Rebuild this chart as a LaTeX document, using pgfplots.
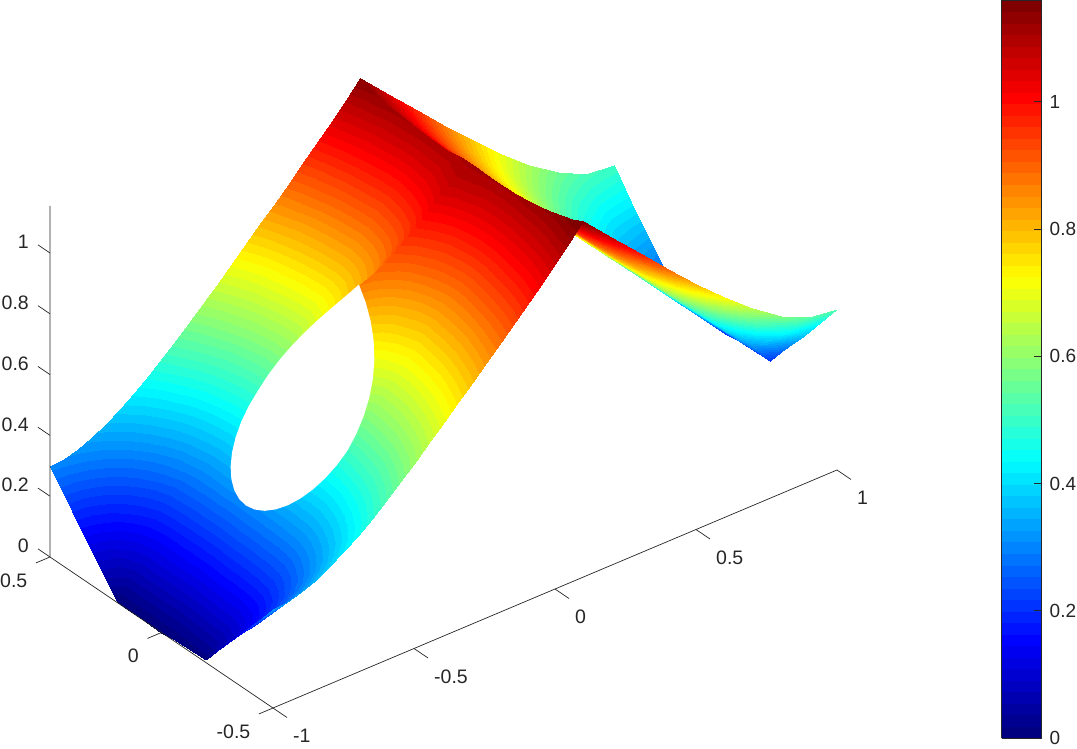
\documentclass[border=0pt]{standalone}
\usepackage{fontspec}
\setmainfont{Liberation Sans}
\usepackage{pgfplots}
\usepackage{pgfplotstable}
\pgfplotsset{compat=1.18}
\definecolor{axisgray}{rgb}{0.15,0.15,0.15}
\pgfplotsset{colormap/jet, colormap={jet64}{samples of colormap=(64 of jet)}}

% half of the surface, y>=0 (it is mirrored in y below)
\pgfplotstableread{
x y z
-1 0 0
-0.95 0 0.05
-0.9 0 0.1
-0.85 0 0.15
-0.8 0 0.2
-0.75 0 0.25
-0.7 0 0.3
-0.65 0 0.371
-0.6 0 0.443
-0.55 0 0.514
-0.5 0 0.586
-0.45 0 0.656
-0.4 0 0.729
-0.35 0 0.8
-0.3 0 0.87
-0.25 0 0.885
-0.2 0 0.912
-0.15 0 0.945
-0.1 0 0.98
-0.05 0 1.02
0 0 1.06
0.05 0 1.09
0.1 0 1.112
0.2 0 1
0.3 0 0.9
0.4 0 0.8
0.5 0 0.7
0.6 0 0.6
0.7 0 0.5
0.8 0 0.4
0.9 0 0.3
1 0 0.2
-1 0.05 0
-0.95 0.05 0.05
-0.9 0.05 0.1
-0.85 0.05 0.15
-0.8 0.05 0.2
-0.75 0.05 0.25
-0.7 0.05 0.3
-0.65 0.05 0.363
-0.6 0.05 0.428
-0.55 0.05 0.493
-0.5 0.05 0.558
-0.45 0.05 0.623
-0.4 0.05 0.688
-0.35 0.05 0.754
-0.3 0.05 0.805
-0.25 0.05 0.824
-0.2 0.05 0.86
-0.15 0.05 0.9
-0.1 0.05 0.943
-0.05 0.05 0.988
0 0.05 1.034
0.05 0.05 1.078
0.1 0.05 1.108
0.2 0.05 1
0.3 0.05 0.9
0.4 0.05 0.8
0.5 0.05 0.7
0.6 0.05 0.6
0.7 0.05 0.5
0.8 0.05 0.4
0.9 0.05 0.3
1 0.05 0.2
-1 0.1 0
-0.95 0.1 0.05
-0.9 0.1 0.1
-0.85 0.1 0.15
-0.8 0.1 0.2
-0.75 0.1 0.25
-0.7 0.1 0.3
-0.65 0.1 0.355
-0.6 0.1 0.416
-0.55 0.1 0.476
-0.5 0.1 0.537
-0.45 0.1 0.598
-0.4 0.1 0.658
-0.35 0.1 0.719
-0.3 0.1 0.752
-0.25 0.1 0.788
-0.2 0.1 0.831
-0.15 0.1 0.876
-0.1 0.1 0.922
-0.05 0.1 0.969
0 0.1 1.017
0.05 0.1 1.06
0.1 0.1 1.104
0.2 0.1 1
0.3 0.1 0.9
0.4 0.1 0.8
0.5 0.1 0.7
0.6 0.1 0.6
0.7 0.1 0.5
0.8 0.1 0.4
0.9 0.1 0.3
1 0.1 0.2
-1 0.15 0
-0.95 0.15 0.05
-0.9 0.15 0.1
-0.85 0.15 0.15
-0.8 0.15 0.2
-0.75 0.15 0.25
-0.7 0.15 0.3
-0.65 0.15 0.35
-0.6 0.15 0.405
-0.55 0.15 0.462
-0.5 0.15 0.52
-0.45 0.15 0.577
-0.4 0.15 0.634
-0.35 0.15 0.676
-0.3 0.15 0.717
-0.25 0.15 0.763
-0.2 0.15 0.81
-0.15 0.15 0.859
-0.1 0.15 0.908
-0.05 0.15 0.957
0 0.15 1.0065
0.05 0.15 1.055
0.1 0.15 1.102
0.2 0.15 1
0.3 0.15 0.9
0.4 0.15 0.8
0.5 0.15 0.7
0.6 0.15 0.6
0.7 0.15 0.5
0.8 0.15 0.4
0.9 0.15 0.3
1 0.15 0.2
-1 0.2 0
-0.95 0.2 0.05
-0.9 0.2 0.1
-0.85 0.2 0.15
-0.8 0.2 0.2
-0.75 0.2 0.25
-0.7 0.2 0.3
-0.65 0.2 0.35
-0.6 0.2 0.4
-0.55 0.2 0.45
-0.5 0.2 0.5
-0.45 0.2 0.55
-0.4 0.2 0.6
-0.35 0.2 0.65
-0.3 0.2 0.7
-0.25 0.2 0.75
-0.2 0.2 0.8
-0.15 0.2 0.85
-0.1 0.2 0.9
-0.05 0.2 0.95
0 0.2 1
0.05 0.2 1.05
0.1 0.2 1.102
0.2 0.2 1
0.3 0.2 0.9
0.4 0.2 0.8
0.5 0.2 0.7
0.6 0.2 0.6
0.7 0.2 0.5
0.8 0.2 0.4
0.9 0.2 0.3
1 0.2 0.2
-1 0.25 0.05
-0.95 0.25 0.0707
-0.9 0.25 0.1118
-0.85 0.25 0.1581
-0.8 0.25 0.2062
-0.75 0.25 0.255
-0.7 0.25 0.3041
-0.65 0.25 0.3536
-0.6 0.25 0.4031
-0.55 0.25 0.4528
-0.5 0.25 0.5025
-0.45 0.25 0.5523
-0.4 0.25 0.6021
-0.35 0.25 0.6519
-0.3 0.25 0.7018
-0.25 0.25 0.7517
-0.2 0.25 0.8016
-0.15 0.25 0.8515
-0.1 0.25 0.9014
-0.05 0.25 0.9513
0 0.25 1.0012
0.05 0.25 1.0512
0.1 0.25 1.104
0.2 0.25 1.0016
0.3 0.25 0.9018
0.4 0.25 0.8021
0.5 0.25 0.7025
0.6 0.25 0.6031
0.7 0.25 0.5041
0.8 0.25 0.4062
0.9 0.25 0.3118
1 0.25 0.25
-1 0.3 0.1
-0.95 0.3 0.1118
-0.9 0.3 0.1414
-0.85 0.3 0.1803
-0.8 0.3 0.2236
-0.75 0.3 0.2693
-0.7 0.3 0.3162
-0.65 0.3 0.364
-0.6 0.3 0.4123
-0.55 0.3 0.461
-0.5 0.3 0.5099
-0.45 0.3 0.559
-0.4 0.3 0.6083
-0.35 0.3 0.6576
-0.3 0.3 0.7071
-0.25 0.3 0.7566
-0.2 0.3 0.8062
-0.15 0.3 0.8559
-0.1 0.3 0.9055
-0.05 0.3 0.9552
0 0.3 1.005
0.05 0.3 1.0548
0.1 0.3 1.108
0.2 0.3 1.0062
0.3 0.3 0.9071
0.4 0.3 0.8083
0.5 0.3 0.7099
0.6 0.3 0.6123
0.7 0.3 0.5162
0.8 0.3 0.4236
0.9 0.3 0.3414
1 0.3 0.3
-1 0.35 0.15
-0.95 0.35 0.1581
-0.9 0.35 0.1803
-0.85 0.35 0.2121
-0.8 0.35 0.25
-0.75 0.35 0.2915
-0.7 0.35 0.3354
-0.65 0.35 0.3808
-0.6 0.35 0.4272
-0.55 0.35 0.4743
-0.5 0.35 0.522
-0.45 0.35 0.5701
-0.4 0.35 0.6185
-0.35 0.35 0.6671
-0.3 0.35 0.7159
-0.25 0.35 0.7649
-0.2 0.35 0.8139
-0.15 0.35 0.8631
-0.1 0.35 0.9124
-0.05 0.35 0.9618
0 0.35 1.0112
0.05 0.35 1.0607
0.1 0.35 1.113
0.2 0.35 1.0139
0.3 0.35 0.9159
0.4 0.35 0.8185
0.5 0.35 0.722
0.6 0.35 0.6272
0.7 0.35 0.5354
0.8 0.35 0.45
0.9 0.35 0.3803
1 0.35 0.35
-1 0.4 0.2
-0.95 0.4 0.2062
-0.9 0.4 0.2236
-0.85 0.4 0.25
-0.8 0.4 0.2828
-0.75 0.4 0.3202
-0.7 0.4 0.3606
-0.65 0.4 0.4031
-0.6 0.4 0.4472
-0.55 0.4 0.4924
-0.5 0.4 0.5385
-0.45 0.4 0.5852
-0.4 0.4 0.6325
-0.35 0.4 0.6801
-0.3 0.4 0.728
-0.25 0.4 0.7762
-0.2 0.4 0.8246
-0.15 0.4 0.8732
-0.1 0.4 0.922
-0.05 0.4 0.9708
0 0.4 1.0198
0.05 0.4 1.0689
0.1 0.4 1.12
0.2 0.4 1.0246
0.3 0.4 0.928
0.4 0.4 0.8325
0.5 0.4 0.7385
0.6 0.4 0.6472
0.7 0.4 0.5606
0.8 0.4 0.4828
0.9 0.4 0.4236
1 0.4 0.4
-1 0.45 0.25
-0.95 0.45 0.255
-0.9 0.45 0.2693
-0.85 0.45 0.2915
-0.8 0.45 0.3202
-0.75 0.45 0.3536
-0.7 0.45 0.3905
-0.65 0.45 0.4301
-0.6 0.45 0.4717
-0.55 0.45 0.5148
-0.5 0.45 0.559
-0.45 0.45 0.6042
-0.4 0.45 0.65
-0.35 0.45 0.6964
-0.3 0.45 0.7433
-0.25 0.45 0.7906
-0.2 0.45 0.8382
-0.15 0.45 0.886
-0.1 0.45 0.9341
-0.05 0.45 0.9823
0 0.45 1.0308
0.05 0.45 1.0794
0.1 0.45 1.13
0.2 0.45 1.0382
0.3 0.45 0.9433
0.4 0.45 0.85
0.5 0.45 0.759
0.6 0.45 0.6717
0.7 0.45 0.5905
0.8 0.45 0.5202
0.9 0.45 0.4693
1 0.45 0.452
-1 0.5 0.3
-0.95 0.5 0.3041
-0.9 0.5 0.3162
-0.85 0.5 0.3354
-0.8 0.5 0.3606
-0.75 0.5 0.3905
-0.7 0.5 0.4243
-0.65 0.5 0.461
-0.6 0.5 0.5
-0.55 0.5 0.5408
-0.5 0.5 0.5831
-0.45 0.5 0.6265
-0.4 0.5 0.6708
-0.35 0.5 0.7159
-0.3 0.5 0.7616
-0.25 0.5 0.8078
-0.2 0.5 0.8544
-0.15 0.5 0.9014
-0.1 0.5 0.9487
-0.05 0.5 0.9962
0 0.5 1.044
0.05 0.5 1.092
0.1 0.5 1.145
0.2 0.5 1.0544
0.3 0.5 0.9616
0.4 0.5 0.8708
0.5 0.5 0.7831
0.6 0.5 0.7
0.7 0.5 0.6243
0.8 0.5 0.5606
0.9 0.5 0.5162
1 0.5 0.505
}\halfsurf

\begin{document}
\begin{tikzpicture}[x=1pt,y=1pt]
\path[use as bounding box] (-443.5,-234.5) rectangle (633.5,513.5);
\begin{axis}[
    at={(0,0)}, anchor=origin,
    x={(282pt,119pt)}, y={(-223pt,151pt)}, z={(0pt,304pt)},
    xmin=-1, xmax=1, ymin=-0.5, ymax=0.5, zmin=0, zmax=1.155,
    clip=false,
    font=\fontsize{19.5}{20}\selectfont,
    /pgf/number format/assume math mode=true,
    xtick={-1,-0.5,0,0.5,1},
    ytick={-0.5,0,0.5},
    ztick={0,0.2,0.4,0.6,0.8,1},
    tick pos=lower,
    major tick length=0pt,
    tick style={draw=none},
    ticklabel style={text=axisgray, inner sep=0pt},
    xticklabel style={anchor=west, xshift=20pt, yshift=-28pt},
    yticklabel style={anchor=east, xshift=-22.5pt, yshift=-23.5pt},
    zticklabel style={anchor=east, xshift=-21pt, yshift=11pt},
    axis line style={draw=none},
    colormap name=jet64,
    colormap access=piecewise constant,
    point meta min=0, point meta max=1.16,
    colorbar,
    colorbar style={
        at={(parent axis.origin)}, anchor=south west,
        xshift=549.5pt, yshift=-224.5pt,
        width=40pt, height=738pt,
        ytick={0,0.2,0.4,0.6,0.8,1},
        ytick pos=right,
        tick align=inside,
        major tick length=8pt,
        axis line style={draw=axisgray, line width=0.8pt},
        tick style={axisgray, line width=0.6pt},
        yticklabel style={text=axisgray, font=\fontsize{19}{20}\selectfont, xshift=8pt},
        /pgf/number format/assume math mode=true,
    },
]
\addplot3[surf, shader=interp, z buffer=sort, mesh/cols=32, mesh/ordering=x varies, forget plot]
    table[x=x, y=y, z=z] {\halfsurf};
% front half, which stands a little higher than the back half
\addplot3[surf, shader=interp, z buffer=sort, mesh/cols=32, mesh/ordering=x varies, forget plot]
    table[x=x, y expr=-\thisrow{y}, z expr=\thisrow{z}+0.05*\thisrow{y}] {\halfsurf};
% the round hole
\addplot3[draw=none, fill=white, no marks, forget plot] coordinates {
(-0.3,0,0.8707) (-0.303,0.0347,0.8295) (-0.3121,0.0684,0.7883) (-0.3268,0.1,0.7471)
(-0.3468,0.1286,0.706) (-0.3714,0.1532,0.6648) (-0.4,0.1732,0.6236) (-0.4316,0.1879,0.5824)
(-0.4653,0.197,0.5412) (-0.5,0.2,0.5) (-0.5347,0.197,0.4653) (-0.5684,0.1879,0.4316)
(-0.6,0.1732,0.4) (-0.6286,0.1532,0.3714) (-0.6532,0.1286,0.3468) (-0.6732,0.1,0.3268)
(-0.6879,0.0684,0.3121) (-0.697,0.0347,0.303) (-0.7,0,0.3)
(-0.697,-0.0347,0.303) (-0.6879,-0.0684,0.3121) (-0.6732,-0.1,0.3268) (-0.6532,-0.1286,0.3468)
(-0.6286,-0.1532,0.3714) (-0.6,-0.1732,0.4) (-0.5684,-0.1879,0.4316) (-0.5347,-0.197,0.4653)
(-0.5,-0.2,0.5) (-0.4653,-0.197,0.5412) (-0.4316,-0.1879,0.5824) (-0.4,-0.1732,0.6236)
(-0.3714,-0.1532,0.6648) (-0.3468,-0.1286,0.706) (-0.3268,-0.1,0.7471) (-0.3121,-0.0684,0.7883)
(-0.303,-0.0347,0.8295)
} -- cycle;
% only the three axis lines that are kept, and their ticks
\draw[axisgray, line width=0.7pt] (axis cs:-1,-0.5,0) -- (axis cs:1,-0.5,0);
\draw[axisgray, line width=0.7pt] (axis cs:-1,-0.5,0) -- (axis cs:-1,0.5,0) -- (axis cs:-1,0.5,1.155);
\draw[axisgray, line width=0.7pt]
    (axis cs:-1,-0.5,0) -- (axis cs:-1,-0.563,0)
    (axis cs:-0.5,-0.5,0) -- (axis cs:-0.5,-0.563,0)
    (axis cs:0,-0.5,0) -- (axis cs:0,-0.563,0)
    (axis cs:0.5,-0.5,0) -- (axis cs:0.5,-0.563,0)
    (axis cs:1,-0.5,0) -- (axis cs:1,-0.563,0)
    (axis cs:-1,-0.5,0) -- (axis cs:-1.05,-0.5,0)
    (axis cs:-1,0,0) -- (axis cs:-1.05,0,0)
    (axis cs:-1,0.5,0) -- (axis cs:-1.05,0.5,0)
    (axis cs:-1,0.5,0) -- (axis cs:-1,0.554,0)
    (axis cs:-1,0.5,0.2) -- (axis cs:-1,0.554,0.2)
    (axis cs:-1,0.5,0.4) -- (axis cs:-1,0.554,0.4)
    (axis cs:-1,0.5,0.6) -- (axis cs:-1,0.554,0.6)
    (axis cs:-1,0.5,0.8) -- (axis cs:-1,0.554,0.8)
    (axis cs:-1,0.5,1) -- (axis cs:-1,0.554,1);
\end{axis}
\end{tikzpicture}
\end{document}
